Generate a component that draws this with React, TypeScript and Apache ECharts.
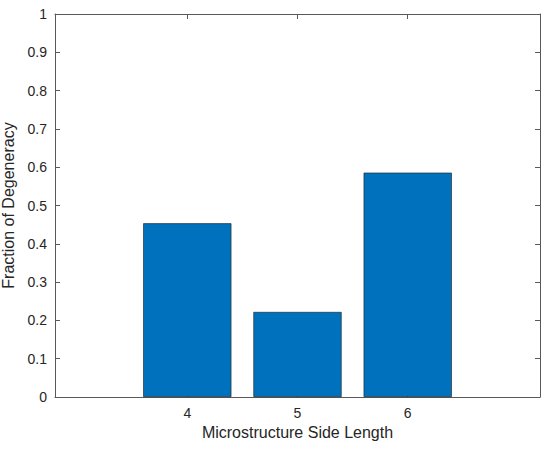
import React, { useEffect, useRef } from "react";
import * as echarts from "echarts";

const sideLengths = [4, 5, 6];
const fractions = [0.4535, 0.222, 0.5857];
const xTicks = [4, 5, 6];
const xLabel = "Microstructure Side Length";
const yLabel = "Fraction of Degeneracy";

export default function App() {
  const ref = useRef<HTMLDivElement>(null);
  useEffect(() => {
    if (!ref.current) return;
    const chart = echarts.init(ref.current, undefined, { renderer: "svg" });
    const axisColor = "#595959";
    const textColor = "#262626";
    const font = "Liberation Sans, Arial, Helvetica, sans-serif";
    chart.setOption({
      animation: false,
      backgroundColor: "#fff",
      grid: { left: 55, top: 14, right: 10, bottom: 53, containLabel: false, outerBoundsMode: "none" },
      xAxis: [
        {
          type: "value",
          min: 2.8,
          max: 7.2,
          position: "bottom",
          name: xLabel,
          nameLocation: "middle",
          nameGap: 27,
          nameTextStyle: { color: textColor, fontSize: 16, fontFamily: font },
          axisLine: { show: true, onZero: false, lineStyle: { color: axisColor, width: 1 } },
          axisTick: { show: true, inside: true, length: 5, customValues: xTicks, lineStyle: { color: axisColor } },
          axisLabel: { customValues: xTicks, color: textColor, fontSize: 14, fontFamily: font, margin: 9 },
          splitLine: { show: false },
        },
        {
          type: "value",
          min: 2.8,
          max: 7.2,
          position: "top",
          axisLine: { show: true, onZero: false, lineStyle: { color: axisColor, width: 1 } },
          axisTick: { show: true, inside: true, length: 5, customValues: xTicks, lineStyle: { color: axisColor } },
          axisLabel: { show: false },
          splitLine: { show: false },
        },
      ],
      yAxis: [
        {
          type: "value",
          min: 0,
          max: 1,
          interval: 0.1,
          position: "left",
          name: yLabel,
          nameLocation: "middle",
          nameGap: 33,
          nameTextStyle: { color: textColor, fontSize: 16, fontFamily: font },
          axisLine: { show: true, onZero: false, lineStyle: { color: axisColor, width: 1 } },
          axisTick: { show: true, inside: true, length: 5, lineStyle: { color: axisColor } },
          axisLabel: {
            color: textColor,
            fontSize: 14,
            fontFamily: font,
            margin: 8,
            formatter: (v: number) => String(Math.round(v * 10) / 10),
          },
          splitLine: { show: false },
        },
        {
          type: "value",
          min: 0,
          max: 1,
          interval: 0.1,
          position: "right",
          axisLine: { show: true, onZero: false, lineStyle: { color: axisColor, width: 1 } },
          axisTick: { show: true, inside: true, length: 5, lineStyle: { color: axisColor } },
          axisLabel: { show: false },
          splitLine: { show: false },
        },
      ],
      series: [
        {
          type: "bar",
          xAxisIndex: 0,
          yAxisIndex: 0,
          data: sideLengths.map((x, i) => [x, fractions[i]]),
          barWidth: "80%",
          itemStyle: { color: "#0072BD", borderColor: "#1a1a1a", borderWidth: 0.6 },
        },
      ],
    });
    return () => chart.dispose();
  }, []);
  return <div ref={ref} style={{ position: "absolute", left: 0, top: 0, width: 550, height: 450 }} />;
}
